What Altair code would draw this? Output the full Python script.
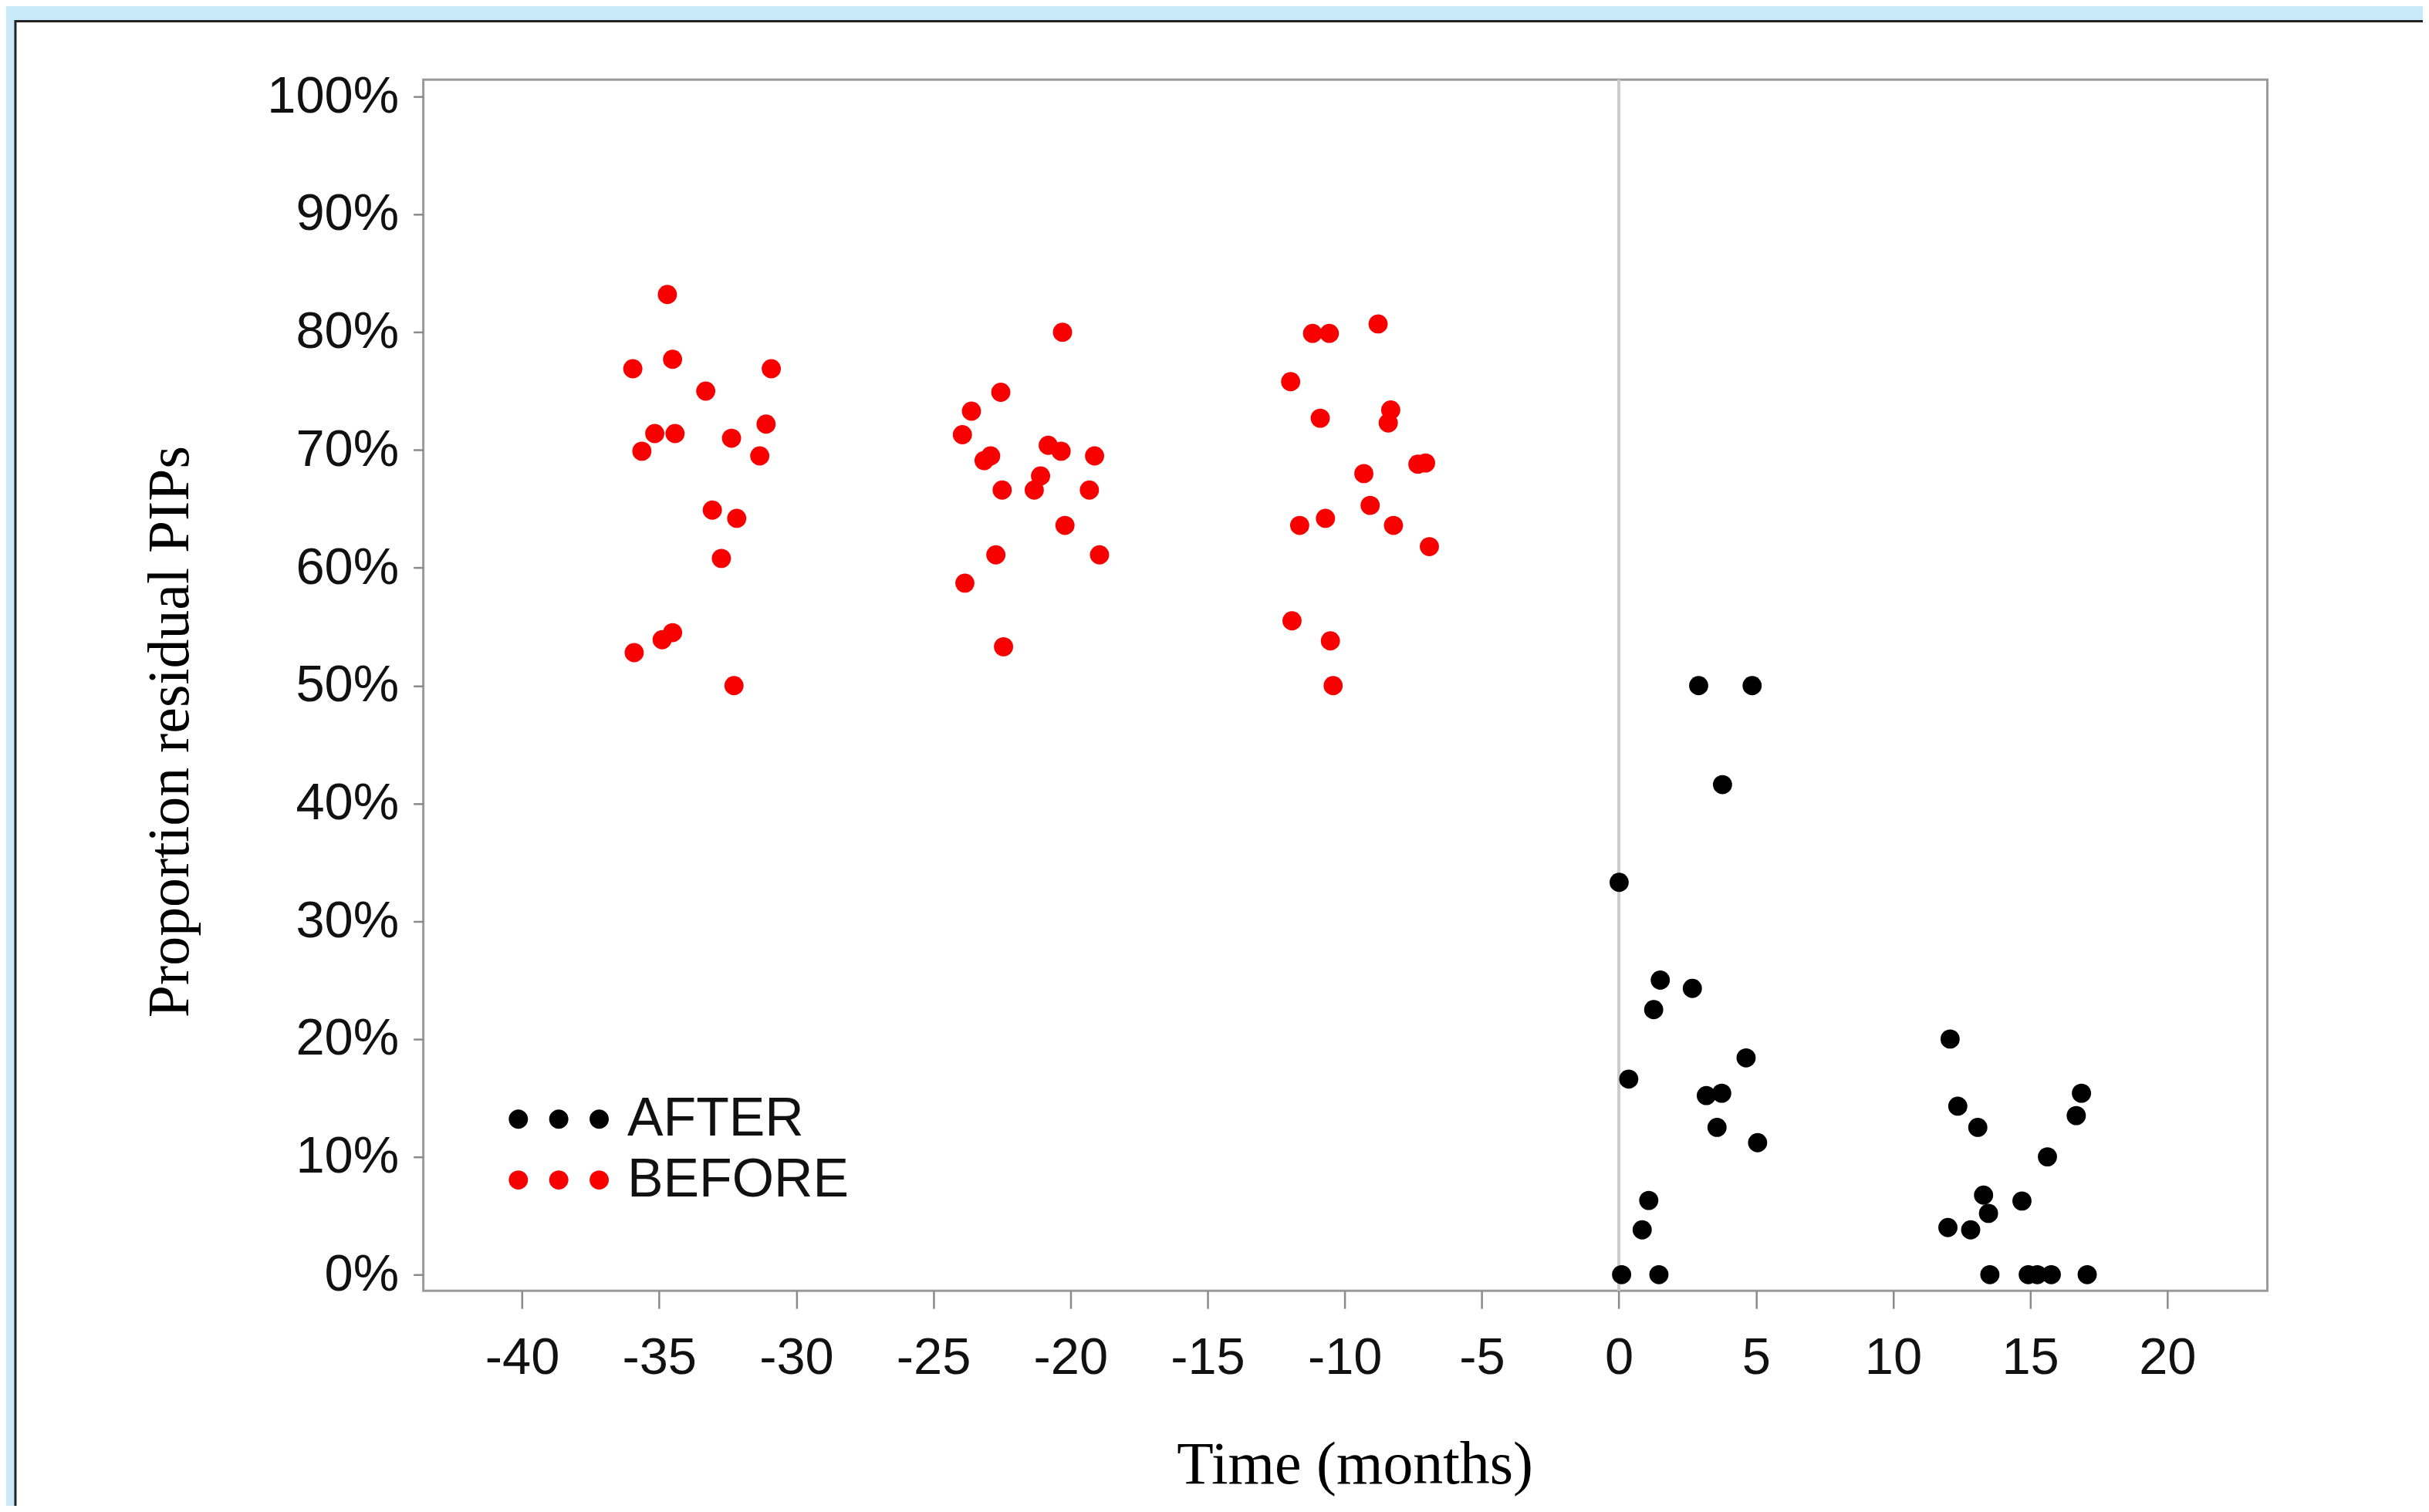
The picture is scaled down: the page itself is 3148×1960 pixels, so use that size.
import altair as alt
import pandas as pd

# ---- data (months, proportion) ----
before_x = [-34.70, -35.96, -34.51, -30.91, -33.30, -35.16, -34.42, -35.63, -32.36,
            -31.10, -31.33, -33.06, -32.17, -32.73, -35.91, -34.89, -34.51, -32.27,
            -20.29, -22.54, -23.61, -23.94, -23.15, -22.91, -22.49, -21.32, -21.09,
            -20.81, -20.34, -19.12, -19.31, -20.20, -22.72, -18.94, -23.85, -22.44,
            -11.17, -10.56, -8.78, -11.97, -10.89, -8.32, -8.41, -9.30, -9.07,
            -7.33, -7.05, -11.64, -10.70, -8.22, -6.91, -11.92, -10.52, -10.42]
before_y = [0.832, 0.769, 0.777, 0.769, 0.750, 0.714, 0.714, 0.699, 0.710,
            0.722, 0.695, 0.649, 0.642, 0.608, 0.528, 0.539, 0.545, 0.500,
            0.800, 0.749, 0.733, 0.713, 0.691, 0.695, 0.666, 0.666, 0.678,
            0.704, 0.699, 0.695, 0.666, 0.636, 0.611, 0.611, 0.587, 0.533,
            0.799, 0.799, 0.807, 0.758, 0.727, 0.734, 0.723, 0.680, 0.653,
            0.688, 0.689, 0.636, 0.642, 0.636, 0.618, 0.555, 0.538, 0.500]

after_x = [2.91, 4.86, 3.78, 0.01, 1.51, 2.68, 1.27, 4.64, 0.36, 3.19, 3.75, 3.58,
           5.06, 1.09, 0.85, 0.10, 1.46,
           12.08, 12.36, 13.09, 16.87, 16.68, 15.63, 13.30, 13.48, 14.70, 12.00,
           12.83, 13.53, 14.93, 15.26, 15.77, 17.08]
after_y = [0.500, 0.500, 0.416, 0.333, 0.250, 0.243, 0.225, 0.184, 0.166, 0.152, 0.154, 0.125,
           0.112, 0.063, 0.038, 0.0, 0.0,
           0.200, 0.143, 0.125, 0.154, 0.135, 0.100, 0.0675, 0.052, 0.0625, 0.040,
           0.038, 0.0, 0.0, 0.0, 0.0, 0.0]

periods = ["AFTER", "BEFORE"]
period_colors = ["#000000", "#f80000"]
x_ticks = list(range(-40, 21, 5))
y_ticks = [i / 10 for i in range(11)]

df = pd.DataFrame({
    "month": before_x + after_x,
    "prop": before_y + after_y,
    "period": ["BEFORE"] * len(before_x) + ["AFTER"] * len(after_x),
})

W, H = 2396, 1574
one = pd.DataFrame({"k": [0]})

xscale = alt.Scale(domain=[-43.6, 23.65], nice=False, zero=False)
yscale = alt.Scale(domain=[-0.0137, 1.0144], nice=False, zero=False)

three_dots = ("M -5.2 0 A 1 1 0 1 0 -3.2 0 A 1 1 0 1 0 -5.2 0 Z "
              "M -1 0 A 1 1 0 1 0 1 0 A 1 1 0 1 0 -1 0 Z "
              "M 3.2 0 A 1 1 0 1 0 5.2 0 A 1 1 0 1 0 3.2 0 Z")

# white slide panel (decoration)
frame = alt.Chart(one).mark_rect(fill="white", stroke="#222222", strokeWidth=3, clip=False).encode(
    x=alt.value(-530), x2=alt.value(W + 400), y=alt.value(-76), y2=alt.value(H + 400)
)

# plot border
border = alt.Chart(one).mark_rect(fillOpacity=0, stroke="#9a9a9a", strokeWidth=3).encode(
    x=alt.value(0), x2=alt.value(W), y=alt.value(0), y2=alt.value(H)
)

rule = alt.Chart(one).mark_rule(color="#cccccc", strokeWidth=4).encode(
    x=alt.X(datum=0, scale=xscale)
)

points = alt.Chart(df).mark_circle(size=620, opacity=1).encode(
    x=alt.X("month:Q", scale=xscale,
            axis=alt.Axis(values=x_ticks, title="Time (months)", labelExpr="datum.value + ''",
                          tickSize=23, tickColor="#8a8a8a", tickWidth=2.5, domain=False, grid=False,
                          labelFont="Liberation Sans", labelFontSize=67, labelColor="#111111",
                          labelBaseline="alphabetic", labelPadding=85, labelFlush=False,
                          labelOverlap=False,
                          titleFont="Liberation Serif", titleFontSize=78, titleFontWeight="normal",
                          titleColor="#000000", titleBaseline="alphabetic", titleY=250, titleX=1210,
                          zindex=1)),
    y=alt.Y("prop:Q", scale=yscale,
            axis=alt.Axis(values=y_ticks, format=".0%", title="Proportion residual PIPs",
                          tickSize=13, tickColor="#8a8a8a", tickWidth=2.5, domain=False, grid=False,
                          labelFont="Liberation Sans", labelFontSize=67, labelColor="#111111",
                          labelPadding=19, labelOverlap=False,
                          titleFont="Liberation Serif", titleFontSize=76, titleFontWeight="normal",
                          titleColor="#000000", titleBaseline="alphabetic", titleX=-306, titleY=847,
                          zindex=1)),
    color=alt.Color("period:N", scale=alt.Scale(domain=periods, range=period_colors),
                    legend=alt.Legend(title=None, orient="none", legendX=141, legendY=1316,
                                      direction="vertical", symbolType=three_dots, symbolSize=625,
                                      symbolStrokeWidth=0, labelFont="Liberation Sans",
                                      labelFontSize=70, labelColor="#111111", labelOffset=54,
                                      labelLimit=1000, rowPadding=9, padding=0, zindex=1)),
)

chart = alt.layer(frame, border, rule, points).properties(
    width=W, height=H,
    autosize=alt.AutoSizeParams(type="none"),
    padding={"left": 542, "top": 93, "right": 202, "bottom": 277},
    background="#c8e9f8",
).configure_view(stroke="transparent")

chart.save("out.html", embed_options={"renderer": "svg", "actions": False})
